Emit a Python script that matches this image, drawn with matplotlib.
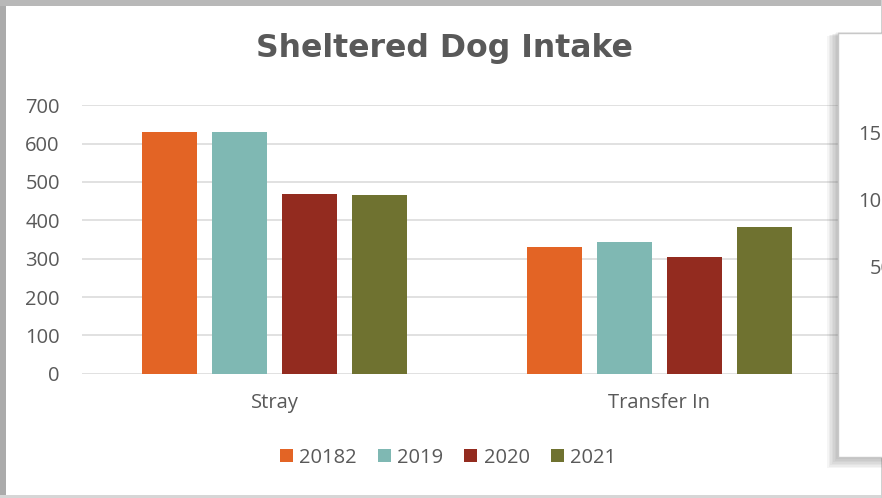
import matplotlib.pyplot as plt
from matplotlib.patches import Rectangle
import numpy as np

categories = ["Stray", "Transfer In"]
years = ["20182", "2019", "2020", "2021"]
values = {
    "20182": [631, 330],
    "2019": [631, 344],
    "2020": [469, 304],
    "2021": [465, 383],
}
colors = ["#E36425", "#7FB8B3", "#932B1F", "#6F7230"]
y_ticks = [0, 100, 200, 300, 400, 500, 600, 700]
# tick labels of the second chart that overlaps on the right
other_ticks = [0, 50, 100, 150]

TEXT = "#595959"
W, H = 882, 498

plt.rcParams['font.family'] = ['Open Sans', 'DejaVu Sans']

fig = plt.figure(figsize=(W / 100, H / 100), dpi=100)
fig.patch.set_facecolor("white")


def px(x0, y0, x1, y1):
    # pixel box (top-left origin) -> figure fraction rect
    return (x0 / W, 1 - y1 / H), (x1 - x0) / W, (y1 - y0) / H


# outer frame of the chart
for (x0, y0, x1, y1), c in [((0, 0, 6, H), "#ABABAB"), ((0, 0, W, 6), "#B8B8B8"),
                            ((0, 495, W, H), "#D6D6D6"), ((881, 0, W, H), "#D0D0D0")]:
    xy, w, h = px(x0, y0, x1, y1)
    fig.patches.append(Rectangle(xy, w, h, transform=fig.transFigure,
                                 facecolor=c, edgecolor="none", zorder=1))

ax = fig.add_axes([82 / W, 1 - 373.7 / H, 770 / W, 268.4 / H])
ax.set_facecolor("none")

x = np.arange(len(categories))
step = 70 / 385
width = 55 / 385
for i, yr in enumerate(years):
    ax.bar(x + (i - 1.5) * step, values[yr], width, color=colors[i], label=yr,
           zorder=3)

ax.set_xlim(-0.5, len(categories) - 0.5)
ax.set_ylim(0, 700)
ax.set_yticks(y_ticks)
ax.set_xticks(x)
ax.set_xticklabels(categories)
ax.grid(axis="y", color="#D9D9D9", linewidth=1.1, zorder=0)
ax.tick_params(axis="y", length=0, pad=16, labelsize=14.5, labelcolor=TEXT)
ax.tick_params(axis="x", length=0, pad=14, labelsize=14.5, labelcolor=TEXT)
for s in ax.spines.values():
    s.set_visible(False)

fig.text(444 / W, 1 - 48 / H, "Sheltered Dog Intake", ha="center", va="center",
         fontsize=22.7, fontweight="bold", color=TEXT, family="DejaVu Sans")

leg = fig.legend(loc="center", bbox_to_anchor=(448 / W, 1 - 457.5 / H), ncol=4,
                 frameon=False, fontsize=14.5, handlelength=0.65,
                 handleheight=0.65, handletextpad=0.3, columnspacing=1.05,
                 labelcolor=TEXT)

# overlapping second chart panel with soft shadow
for k in range(8):
    off = 1.5 * k
    xy, w, h = px(838 - 11 + off, 33 + 3 - off * 0.4, W + 10, 457 + 11 - off)
    fig.patches.append(Rectangle(xy, w, h, transform=fig.transFigure,
                                 facecolor="#6A6A6A", alpha=0.065,
                                 edgecolor="none", zorder=4))
xy, w, h = px(838, 33, W + 5, 457)
fig.patches.append(Rectangle(xy, w, h, transform=fig.transFigure,
                             facecolor="white", edgecolor="#C8C8C8",
                             linewidth=1, zorder=5))

ax2 = fig.add_axes([892.5 / W, 1 - 333 / H, 0.1, 200 / H], zorder=6)
ax2.set_facecolor("none")
ax2.set_ylim(0, 150)
ax2.set_yticks(other_ticks)
ax2.set_xticks([])
ax2.tick_params(axis="y", length=0, pad=0, labelsize=14.5, labelcolor=TEXT)
for s in ax2.spines.values():
    s.set_visible(False)

fig.savefig("out.png", dpi=100)
